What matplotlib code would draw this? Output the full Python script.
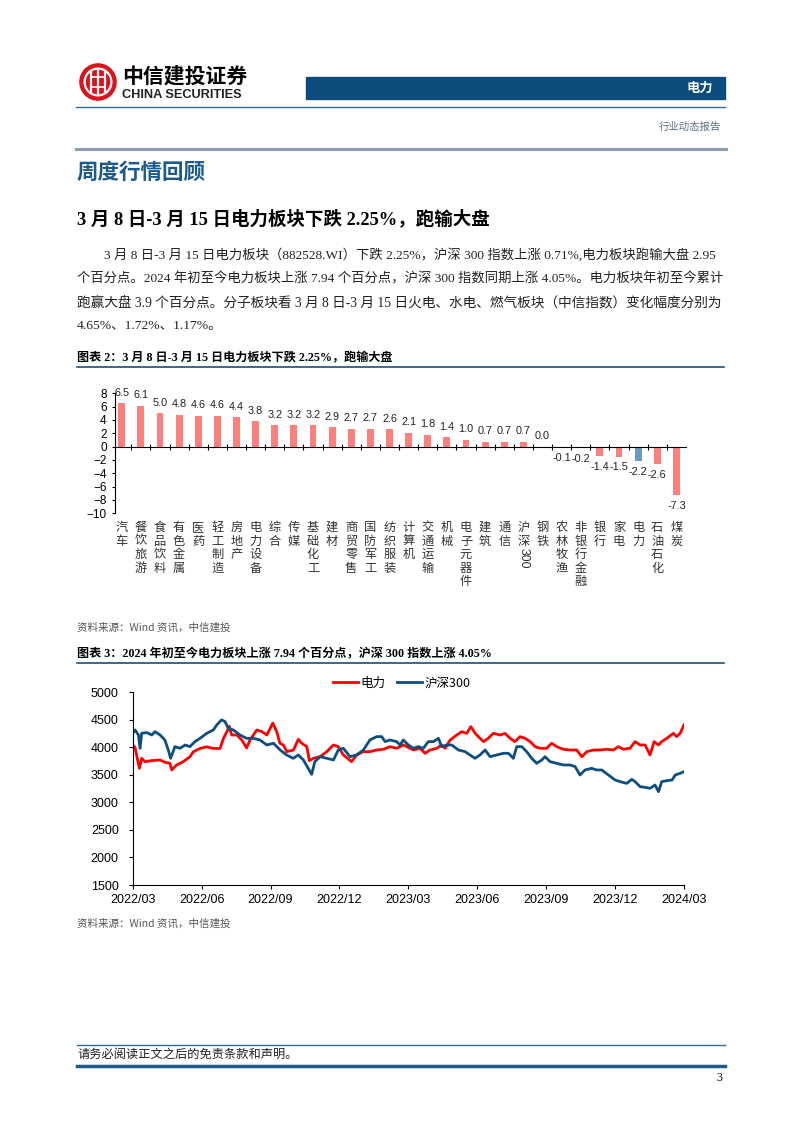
import numpy as np
import matplotlib
matplotlib.use("Agg")
import matplotlib.pyplot as plt
from matplotlib.patches import Rectangle, Circle
from matplotlib.lines import Line2D
import matplotlib.transforms as mtransforms

W, H = 802, 1133

# ---- chart 2: weekly change by sector (%) ----
sectors = ["汽车", "餐饮旅游", "食品饮料", "有色金属", "医药", "轻工制造", "房地产",
           "电力设备", "综合", "传媒", "基础化工", "建材", "商贸零售", "国防军工",
           "纺织服装", "计算机", "交通运输", "机械", "电子元器件", "建筑", "通信",
           "沪深300", "钢铁", "农林牧渔", "非银行金融", "银行", "家电", "电力",
           "石油石化", "煤炭"]
weekly_change = [6.5, 6.1, 5.0, 4.8, 4.6, 4.6, 4.4, 3.8, 3.2, 3.2, 3.2, 2.9, 2.7, 2.7,
                 2.6, 2.1, 1.8, 1.4, 1.0, 0.7, 0.7, 0.7, 0.0, -0.1, -0.2, -1.4, -1.5,
                 -2.2, -2.6, -7.3]
highlight = "电力"

# ---- chart 3: index levels, x = months since 2022/03 ----
power_t = [0.0, 0.1, 0.29, 0.39, 0.54, 0.83, 1.19, 1.40, 1.62, 1.70, 1.91, 2.20, 2.49,
           2.64, 2.93, 3.22, 3.51, 3.80, 3.95, 4.21, 4.31, 4.53, 4.75, 4.96, 5.11, 5.40,
           5.62, 5.84, 6.10, 6.27, 6.41, 6.56, 6.71, 7.00, 7.21, 7.36, 7.58, 7.69, 7.87,
           8.16, 8.45, 8.74, 8.95, 9.17, 9.53, 9.75, 10.04, 10.33, 10.62, 10.91, 11.20,
           11.49, 11.78, 11.93, 12.22, 12.51, 12.73, 12.94, 13.24, 13.45, 13.60, 13.82,
           14.11, 14.32, 14.54, 14.72, 14.91, 15.05, 15.27, 15.48, 15.70, 16.00, 16.21,
           16.43, 16.64, 16.86, 17.08, 17.30, 17.52, 17.73, 18.02, 18.24, 18.46, 18.75,
           19.04, 19.33, 19.55, 19.77, 20.06, 20.35, 20.64, 20.93, 21.14, 21.36, 21.65,
           21.87, 22.09, 22.31, 22.52, 22.70, 22.89, 23.03, 23.25, 23.54, 23.68, 23.83,
           24.0]
power_val = [4043, 4000, 3619, 3801, 3740, 3760, 3771, 3730, 3710, 3590, 3680, 3740, 3830,
             3920, 3980, 4010, 3980, 3980, 4160, 4380, 4225, 4225, 4134, 3990, 4134, 4316,
             4285, 4225, 4440, 4285, 4074, 4043, 3922, 3952, 4146, 4074, 4013, 3760, 3801,
             3831, 3922, 4043, 4013, 3862, 3740, 3862, 3922, 3922, 3952, 3965, 4013,
             3983, 4043, 4013, 3952, 3983, 3892, 3952, 3983, 4043, 3983, 4134,
             4225, 4285, 4255, 4376, 4255, 4195, 4104, 4164, 4255, 4225, 4255,
             4164, 4104, 4195, 4164, 4104, 4013, 3983, 3983, 4074, 4013, 3965,
             3952, 3952, 3831, 3922, 3952, 3952, 3965, 3952, 4013, 3965, 3983,
             4104, 4043, 4043, 3862, 4104, 4043, 4104, 4164, 4255, 4195, 4255,
             4407]
hs300_t = [0.0, 0.10, 0.25, 0.32, 0.39, 0.61, 0.83, 0.97, 1.19, 1.40, 1.55, 1.65, 1.84,
           2.06, 2.28, 2.49, 2.71, 2.93, 3.22, 3.51, 3.66, 3.87, 4.02, 4.16, 4.38, 4.67,
           4.96, 5.25, 5.54, 5.84, 6.13, 6.42, 6.70, 6.99, 7.21, 7.43, 7.64, 7.79, 7.93,
           8.16, 8.45, 8.74, 8.95, 9.17, 9.46, 9.75, 10.04, 10.33, 10.62, 10.84, 10.99,
           11.20, 11.49, 11.64, 11.78, 12.00, 12.22, 12.44, 12.65, 12.87, 13.09, 13.31,
           13.45, 13.67, 13.89, 14.18, 14.47, 14.68, 14.90, 15.12, 15.34, 15.56, 15.85,
           16.14, 16.36, 16.57, 16.72, 16.94, 17.15, 17.37, 17.59, 17.81, 17.95, 18.17,
           18.46, 18.75, 19.04, 19.26, 19.47, 19.69, 19.98, 20.20, 20.42, 20.71, 21.00,
           21.22, 21.51, 21.73, 21.87, 22.09, 22.31, 22.52, 22.74, 22.89, 23.03, 23.25,
           23.48, 23.62, 23.83, 24.0]
hs300_val = [4255, 4316, 4225, 3983, 4255, 4268, 4225, 4285, 4225, 4134, 3952, 3801, 4013,
             3983, 4043, 4013, 4104, 4164, 4255, 4316, 4407, 4500, 4467, 4346, 4316, 4225,
             4164, 4164, 4134, 4043, 4074, 3952, 3862, 3801, 3862, 3771, 3619, 3510, 3740,
             3831, 3801, 3771, 3952, 3983, 3831, 3862, 3952, 4134, 4195, 4195, 4104,
             4134, 4104, 4043, 4134, 4043, 3983, 4013, 3983, 4104, 4104, 4164,
             4013, 4043, 4043, 3952, 3922, 3862, 3801, 3862, 3952, 3831, 3862,
             3892, 3892, 3801, 4013, 4013, 3922, 3801, 3710, 3771, 3831, 3740,
             3710, 3680, 3680, 3650, 3498, 3589, 3619, 3589, 3589, 3498, 3407,
             3377, 3346, 3419, 3377, 3286, 3274, 3256, 3316, 3195, 3377, 3395,
             3407, 3498, 3528, 3559]
date_labels = ["2022/03", "2022/06", "2022/09", "2022/12", "2023/03",
               "2023/06", "2023/09", "2023/12", "2024/03"]

# ---- page text ----
para_lines = [
    "3 月 8 日-3 月 15 日电力板块（882528.WI）下跌 2.25%，沪深 300 指数上涨 0.71%,电力板块跑输大盘 2.95",
    "个百分点。2024 年初至今电力板块上涨 7.94 个百分点，沪深 300 指数同期上涨 4.05%。电力板块年初至今累计",
    "跑赢大盘 3.9 个百分点。分子板块看 3 月 8 日-3 月 15 日火电、水电、燃气板块（中信指数）变化幅度分别为",
    "4.65%、1.72%、1.17%。",
]

CJK = ['Noto Sans CJK SC', 'DejaVu Sans']
SERIF = ['Liberation Serif', 'Noto Sans CJK SC']
plt.rcParams['font.family'] = ['Liberation Sans', 'Noto Sans CJK SC']

RED_BAR = '#FF7F7F'
BLUE_BAR = '#6A9AC2'
DARK_BLUE = '#0B4C7D'
LINE_RED = '#FF0000'
LINE_BLUE = '#0E4E7E'

fig = plt.figure(figsize=(W / 100, H / 100), dpi=100)


def fx(x):
    return x / W


def fy(y):
    return 1 - y / H


def hline(x0, x1, y, lw, color):
    fig.add_artist(Line2D([fx(x0), fx(x1)], [fy(y), fy(y)], lw=lw, color=color,
                          transform=fig.transFigure))


def ftext(x, y, s, **kw):
    fig.text(fx(x), fy(y), s, **kw)


# header / logo
lax = fig.add_axes([fx(79), fy(101), 38 / W, 38 / H])
lax.set_xlim(-1.05, 1.05)
lax.set_ylim(-1.05, 1.05)
lax.set_aspect('equal')
lax.axis('off')
lax.add_patch(Circle((0, 0), 1.0, color='#D9141C'))
lax.add_patch(Circle((0, 0), 0.74, fill=False, ec='white', lw=1.6))
for xv in [-0.36, 0.0, 0.36]:
    lax.plot([xv, xv], [-0.6, 0.6], color='white', lw=1.6)
lax.plot([-0.36, 0.36], [0.25, 0.25], color='white', lw=1.2)
lax.plot([-0.36, 0.36], [-0.25, -0.25], color='white', lw=1.2)

ftext(122, 76, "中信建投证券", family=CJK, fontsize=15, weight='bold', va='center')
ftext(122, 95, "CHINA SECURITIES", fontsize=9.2, weight='bold', va='center', color='#222222')

fig.add_artist(Rectangle((fx(306), fy(99.3)), (725 - 306) / W, 22.6 / H,
                         color=DARK_BLUE, transform=fig.transFigure))
ftext(713, 88, "电力", family=CJK, fontsize=9.5, weight='bold', color='white',
      ha='right', va='center')
hline(76, 725, 107, 1.0, '#2F6B9A')
ftext(721, 127, "行业动态报告", family=CJK, fontsize=7.5, color='#5B7086',
      ha='right', va='center')
hline(76, 726, 149, 2.2, '#8D9CAA')

ftext(77, 172.5, "周度行情回顾", family=CJK, fontsize=15.5, weight='bold',
      color='#1D5A8C', va='center')
ftext(77, 219, "3 月 8 日-3 月 15 日电力板块下跌 2.25%，跑输大盘", family=SERIF,
      fontsize=13.3, weight='bold', va='center')

para_y = [255, 279, 303, 326]
para_size = [9.6, 9.6, 9.85, 9.7]
for i, (line, y) in enumerate(zip(para_lines, para_y)):
    ftext(104 if i == 0 else 77, y, line, family=SERIF, fontsize=para_size[i],
          va='center', color='#222222')

# chart 2 title
ftext(77, 358, "图表 2：3 月 8 日-3 月 15 日电力板块下跌 2.25%，跑输大盘", family=SERIF,
      fontsize=8.7, weight='bold', va='center')
hline(77, 724, 367.3, 1.2, '#1F4E79')

# bar chart
ax1 = fig.add_axes([fx(115), fy(513.3), (686 - 115) / W, 120 / H])
xs = np.arange(len(sectors))
colors = [BLUE_BAR if s == highlight else RED_BAR for s in sectors]
ax1.bar(xs, weekly_change, width=0.36, color=colors, zorder=2)
ax1.set_xlim(-0.35, 29.5)
ax1.set_ylim(-10, 8)
ax1.set_yticks(range(-10, 9, 2))
ax1.tick_params(axis='y', labelsize=8.5, length=2, pad=4, width=0.8)
for sp in ['top', 'right']:
    ax1.spines[sp].set_visible(False)
ax1.spines['bottom'].set_position(('data', 0))
ax1.spines['left'].set_linewidth(0.8)
ax1.spines['bottom'].set_linewidth(0.8)
ax1.set_xticks(xs[:-1] + 0.5)
ax1.set_xticklabels([])
ax1.tick_params(axis='x', direction='inout', length=4, width=0.8)
for i, v in enumerate(weekly_change):
    ax1.annotate(f"{v:.1f}", (i, v), xytext=(0, 4 if v >= 0 else -4),
                 textcoords='offset points', ha='center',
                 va='bottom' if v >= 0 else 'top', fontsize=7.8, color='#222222')
blend = mtransforms.blended_transform_factory(ax1.transData, ax1.transAxes)
for i, s in enumerate(sectors):
    if s.endswith("300"):
        ax1.text(i, -0.065, "\n".join(s[:-3]), transform=blend, ha='center', va='top',
                 family=CJK, fontsize=8.8, linespacing=1.05, color='#333333')
        ax1.text(i, -0.29, s[-3:], transform=blend, ha='center', va='top',
                 rotation=-90, fontsize=8.8, color='#333333')
    else:
        ax1.text(i, -0.065, "\n".join(s), transform=blend, ha='center', va='top',
                 family=CJK, fontsize=8.8, linespacing=1.05, color='#333333')

ftext(77, 627.5, "资料来源：Wind 资讯，中信建投", family=CJK, fontsize=7.6, style='italic',
      color='#555555', va='center')

# chart 3 title
ftext(77, 654, "图表 3：2024 年初至今电力板块上涨 7.94 个百分点，沪深 300 指数上涨 4.05%",
      family=SERIF, fontsize=8.7, weight='bold', va='center')
hline(77, 724, 662.7, 1.2, '#1F4E79')

# line chart
ax2 = fig.add_axes([fx(132.7), fy(885), (684 - 132.7) / W, (885 - 692.3) / H])
ax2.plot(power_t, power_val, color=LINE_RED, lw=2.0, label="电力")
ax2.plot(hs300_t, hs300_val, color=LINE_BLUE, lw=2.0, label="沪深300")
ax2.set_xlim(0, 24)
ax2.set_ylim(1500, 5000)
ax2.set_yticks(range(1500, 5001, 500))
ax2.set_xticks(range(0, 25, 3))
ax2.set_xticklabels(date_labels)
ax2.tick_params(axis='both', labelsize=9, length=3, width=0.8)
ax2.tick_params(axis='y', pad=7)
for sp in ['top', 'right']:
    ax2.spines[sp].set_visible(False)
for sp in ['left', 'bottom']:
    ax2.spines[sp].set_linewidth(0.8)
fig.legend(*ax2.get_legend_handles_labels(), loc='center',
           bbox_to_anchor=(fx(402), fy(683)), ncol=2, frameon=False,
           prop={'family': CJK, 'size': 9}, handlelength=2.0, columnspacing=0.9,
           handletextpad=0.2)

ftext(77, 924, "资料来源：Wind 资讯，中信建投", family=CJK, fontsize=7.6, style='italic',
      color='#555555', va='center')

# footer
hline(77, 725, 1045, 1.0, '#2F6B9A')
ftext(77, 1054.5, "请务必阅读正文之后的免责条款和声明。", family=CJK, fontsize=8.8,
      va='center', color='#222222')
hline(77, 725, 1065.5, 2.5, '#1F5A8B')
ftext(722, 1078, "3", family=SERIF, fontsize=8.5, ha='right', va='center')

fig.savefig("out.png", dpi=100)
